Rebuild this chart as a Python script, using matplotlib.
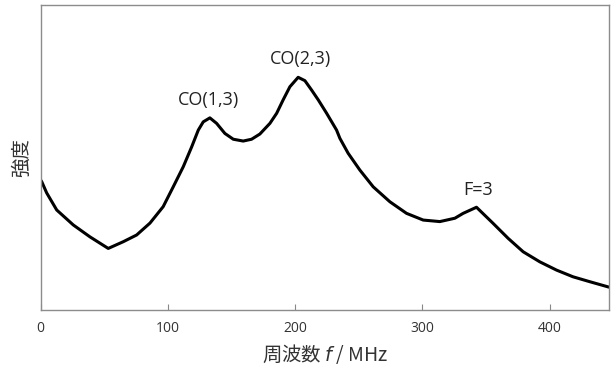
import numpy as np
import matplotlib.pyplot as plt

plt.rcParams['font.family'] = ['Open Sans', 'DejaVu Sans']
plt.rcParams['mathtext.fontset'] = 'dejavusans'
jp = ['Noto Sans CJK JP', 'DejaVu Sans']

# frequency (MHz) and intensity (arbitrary units)
freq = [0, 0.8, 4.7, 12.6, 25.6, 38.7, 53.1, 64.9, 75.4, 85.9, 96.3, 104.2,
        112.1, 118.7, 123.9, 127.8, 133.0, 138.3, 144.8, 151.4, 159.2, 165.8,
        172.3, 180.2, 185.5, 190.6, 195.9, 202.4, 207.7, 213.0, 218.2, 224.8,
        232.6, 235.2, 241.7, 250.9, 261.4, 274.5, 287.6, 300.7, 313.8, 325.6,
        332.1, 342.6, 355.7, 367.5, 379.3, 392.4, 405.5,
        418.5, 431.6, 446.0, 447.0]
inten = [42.6, 42.1, 38.4, 32.8, 27.9, 24.0, 20.2, 22.4, 24.6, 28.5, 33.9, 40.4,
         47.0, 53.5, 59.0, 61.7, 63.0, 61.2, 57.9, 56.0, 55.4, 56.0,
         57.7, 61.2, 64.5, 68.9, 73.2, 76.3, 75.2, 72.1, 68.9, 64.5,
         59.0, 56.3, 51.4, 45.9, 40.4, 35.5, 31.7, 29.5, 29.0, 30.1,
         31.7, 33.7, 28.4, 23.5, 19.1, 15.8, 13.1,
         10.9, 9.3, 7.6, 7.5]

labels = ['CO(1,3)', 'CO(2,3)', 'F=3']
label_x = [131.6, 204.5, 343.6]
label_y = [68.9, 82.3, 39.2]

fig = plt.figure(figsize=(6.11, 3.74), dpi=100)
ax = fig.add_axes([0.0666, 0.171, 0.9306, 0.8156])

ax.plot(freq, inten, color='black', linewidth=2.2)

for t, x, y in zip(labels, label_x, label_y):
    ax.text(x, y, t, ha='center', va='center', fontsize=13, color='#222222')

ax.set_xlim(0, 447)
ax.set_ylim(0, 100)
ax.set_xticks([0, 100, 200, 300, 400])
ax.set_yticks([])
ax.tick_params(axis='x', direction='in', length=4, color='#888888',
               labelsize=10, labelcolor='#333333', pad=8)

for s in ax.spines.values():
    s.set_color('#8c8c8c')
    s.set_linewidth(1.0)

ax.set_xlabel('周波数 $f$ / MHz', family=jp, fontsize=14, color='#333333', labelpad=4)
ax.set_ylabel('強度', family=jp, fontsize=14, color='#333333', labelpad=6)

fig.savefig('out.png', dpi=100)
